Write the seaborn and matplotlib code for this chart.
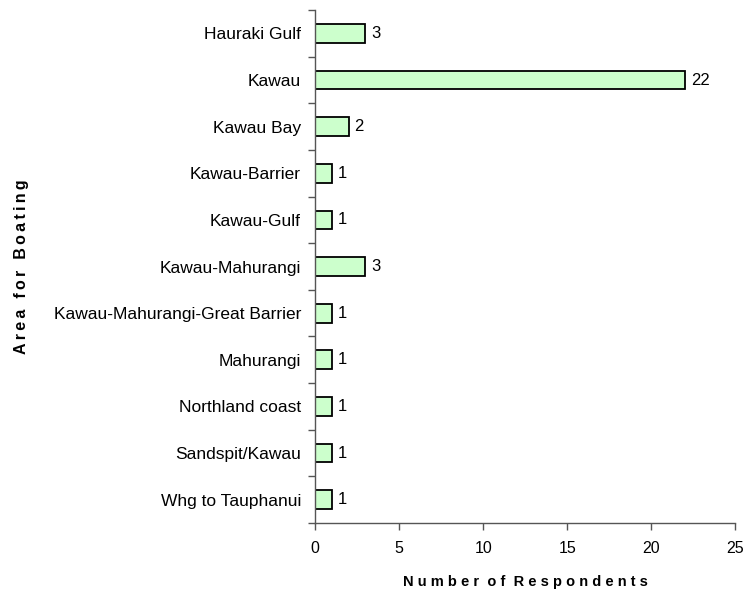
import numpy as np
import pandas as pd
import seaborn as sns
import matplotlib.pyplot as plt

areas = ['Hauraki Gulf', 'Kawau', 'Kawau Bay', 'Kawau-Barrier', 'Kawau-Gulf',
         'Kawau-Mahurangi', 'Kawau-Mahurangi-Great Barrier', 'Mahurangi',
         'Northland coast', 'Sandspit/Kawau', 'Whg to Tauphanui']
counts = [3, 22, 2, 1, 1, 3, 1, 1, 1, 1, 1]
x_ticks = [0, 5, 10, 15, 20, 25]

df = pd.DataFrame({'area': areas, 'n': counts})

sns.set_style('white')
plt.rcParams['font.family'] = ['Liberation Sans', 'DejaVu Sans']
plt.rcParams['text.color'] = 'black'
plt.rcParams['axes.labelcolor'] = 'black'
plt.rcParams['xtick.color'] = 'black'
plt.rcParams['ytick.color'] = 'black'

fig = plt.figure(figsize=(7.44, 5.96), dpi=100)
ax = fig.add_axes([0.4234, 0.1225, 0.565, 0.8605])

sns.barplot(data=df, x='n', y='area', orient='h', ax=ax, color='#CCFFCC',
            edgecolor='black', linewidth=1.3, width=0.4, saturation=1)

for i, v in enumerate(counts):
    ax.text(v + 0.35, i, str(v), va='center', ha='left', fontsize=12)

ax.set_xlim(0, 25)
ax.set_ylim(len(areas) - 0.5, -0.5)
ax.set_xticks(x_ticks)
ax.set_xticklabels([str(t) for t in x_ticks], fontsize=11.5)
ax.set_yticks(range(len(areas)))
ax.set_yticklabels(areas, fontsize=12.5)
ax.set_yticks(np.arange(-0.5, len(areas), 1), minor=True)
ax.tick_params(axis='y', which='major', length=0, pad=10)
ax.tick_params(axis='y', which='minor', left=True, length=5, width=1,
               color='#555555', direction='out')
ax.tick_params(axis='x', which='major', bottom=True, length=5, width=1,
               color='#555555', direction='out', pad=8)

for s in ['top', 'right']:
    ax.spines[s].set_visible(False)
for s in ['left', 'bottom']:
    ax.spines[s].set_color('#555555')
    ax.spines[s].set_linewidth(1)

ax.set_xlabel('N u m b e r  o f  R e s p o n d e n t s', fontsize=10.5,
              fontweight='bold', labelpad=14)
ax.set_ylabel('\u2009'.join('Area for Boating'), fontsize=11.5, fontweight='bold')
ax.yaxis.set_label_coords(-0.68, 0.5)

plt.savefig('out.png', dpi=100)
